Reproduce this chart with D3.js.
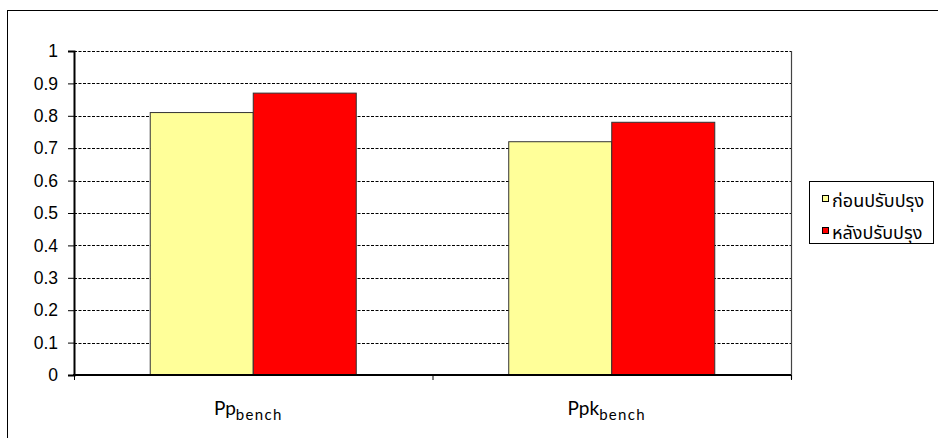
<!DOCTYPE html>
<html>
<head>
<meta charset="utf-8">
<script src="https://cdn.jsdelivr.net/npm/d3@7"></script>
<style>
  html, body { margin: 0; padding: 0; background: #fff; }
  svg { display: block; }
</style>
</head>
<body>
<svg id="chart" width="938" height="438"></svg>
<script>
const categories = ["Pp", "Ppk"];
const categorySubs = ["bench", "bench"];
const seriesNames = ["ก่อนปรับปรุง", "หลังปรับปรุง"];
const beforeValues = [0.81, 0.72];
const afterValues = [0.87, 0.78];
const yTicks = [0, 0.1, 0.2, 0.3, 0.4, 0.5, 0.6, 0.7, 0.8, 0.9, 1];
const seriesColors = ["#FFFF99", "#FF0000"];

const svg = d3.select("#chart");
const margin = { left: 74, top: 51, right: 791, bottom: 375 };

// outer chart frame (extends past right/bottom edges)
svg.append("rect")
  .attr("x", 7.5).attr("y", 10.5)
  .attr("width", 960).attr("height", 460)
  .attr("fill", "none").attr("stroke", "#000").attr("stroke-width", 1);

const x0 = d3.scaleBand().domain(categories).range([margin.left, margin.right]).paddingInner(0).paddingOuter(0);
const x1 = d3.scaleBand().domain(seriesNames).range([0, x0.bandwidth()]).paddingInner(0).paddingOuter(0.74);
const y = d3.scaleLinear().domain([0, 1]).range([margin.bottom, margin.top]);

// gridlines
svg.append("g").selectAll("line").data(yTicks.filter(d => d > 0)).join("line")
  .attr("x1", margin.left).attr("x2", margin.right)
  .attr("y1", d => Math.round(y(d)) + 0.5).attr("y2", d => Math.round(y(d)) + 0.5)
  .attr("stroke", "#000").attr("stroke-width", 1).attr("stroke-dasharray", "3,1.5");

// right border of plot area
svg.append("line")
  .attr("x1", margin.right + 0.5).attr("x2", margin.right + 0.5)
  .attr("y1", margin.top).attr("y2", margin.bottom + 4)
  .attr("stroke", "#444").attr("stroke-width", 1.2);

// bars
const series = [beforeValues, afterValues];
series.forEach((vals, si) => {
  svg.append("g").selectAll("rect").data(categories).join("rect")
    .attr("x", (c) => x0(c) + x1(seriesNames[si]))
    .attr("y", (c, i) => y(vals[i]))
    .attr("width", x1.bandwidth())
    .attr("height", (c, i) => y(0) - y(vals[i]))
    .attr("fill", seriesColors[si])
    .attr("stroke", "#333").attr("stroke-width", 1);
});

// y axis
const yAxis = d3.axisLeft(y).tickValues(yTicks).tickSize(6).tickPadding(10)
  .tickFormat(d => d === 0 || d === 1 ? String(d) : d3.format(".1f")(d));
const gy = svg.append("g").attr("transform", `translate(${margin.left},0)`).call(yAxis);
gy.attr("font-size", null).attr("font-family", null);
gy.select(".domain").attr("stroke", "#000").attr("stroke-width", 2);
gy.selectAll(".tick line").attr("stroke", "#000").attr("stroke-width", 1);
gy.selectAll(".tick text")
  .style("font-family", "'Liberation Sans', Arial, sans-serif")
  .style("font-size", "17.5px")
  .attr("fill", "#000");

// x axis
const gx = svg.append("g").attr("transform", `translate(0,${margin.bottom})`);
gx.append("line").attr("x1", margin.left - 1).attr("x2", margin.right)
  .attr("y1", 0).attr("y2", 0).attr("stroke", "#000").attr("stroke-width", 2);
gx.selectAll("line.tk").data([margin.left, x0("Ppk"), margin.right]).join("line")
  .attr("class", "tk").attr("x1", d => d + 0.5).attr("x2", d => d + 0.5)
  .attr("y1", 0).attr("y2", 5).attr("stroke", "#000");

// x labels with subscript
svg.append("g").selectAll("text").data(categories).join("text")
  .attr("x", c => x0(c) + x0.bandwidth() / 2 - 5)
  .attr("y", 415)
  .attr("text-anchor", "middle")
  .style("font-family", "Lato, 'Open Sans', sans-serif")
  .style("font-size", "19px").attr("fill", "#000")
  .each(function(c, i) {
    const t = d3.select(this);
    t.append("tspan").text(c);
    t.append("tspan").style("font-size", "15px").attr("dy", 5).style("letter-spacing", "1.3px").text(categorySubs[i]);
  });

// legend
const lg = svg.append("g");
lg.append("rect").attr("x", 809.5).attr("y", 181.5).attr("width", 124).attr("height", 62)
  .attr("fill", "#fff").attr("stroke", "#000").attr("stroke-width", 1);
seriesNames.forEach((n, i) => {
  const cy = 199 + i * 32;
  lg.append("rect").attr("x", 822.5).attr("y", cy - 3.5).attr("width", 6).attr("height", 6)
    .attr("fill", seriesColors[i]).attr("stroke", "#000").attr("stroke-width", 1);
  lg.append("text").attr("x", 832).attr("y", cy + 7.5)
    .style("font-family", "Tahoma, 'Noto Sans Thai', 'Noto Sans', 'DejaVu Sans', sans-serif")
    .style("font-size", "18px").attr("fill", "#000").text(n);
});
</script>
</body>
</html>
